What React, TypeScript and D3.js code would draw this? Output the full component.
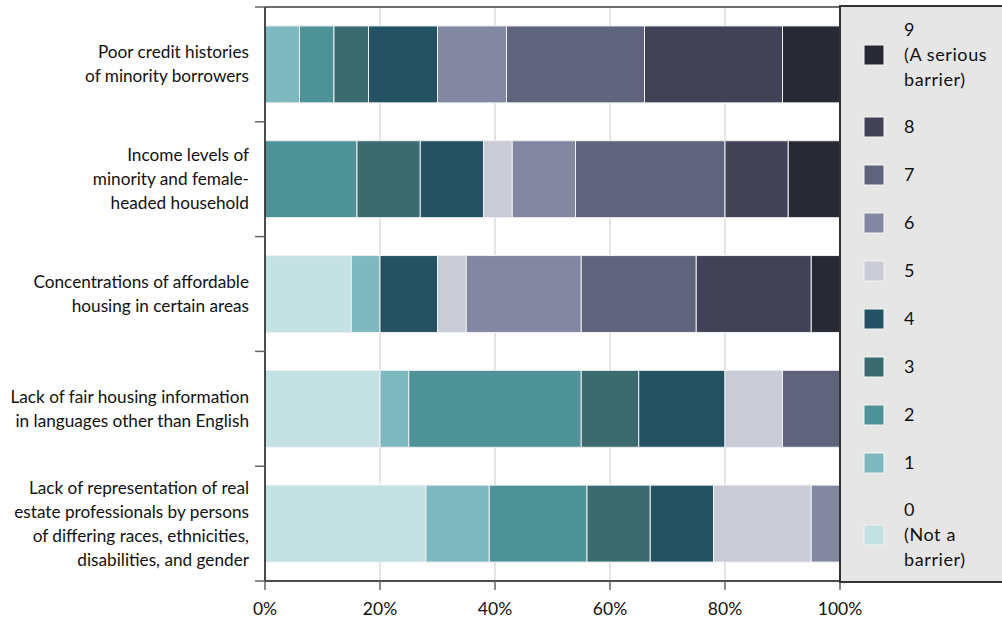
import React from "react";
import * as d3 from "d3";

const categories: string[][] = [
  ["Poor credit histories", "of minority borrowers"],
  ["Income levels of", "minority and female-", "headed household"],
  ["Concentrations of affordable", "housing in certain areas"],
  ["Lack of fair housing information", "in languages other than English"],
  ["Lack of representation of real", "estate professionals by persons", "of differing races, ethnicities,", "disabilities, and gender"],
];

const levels = ["0", "1", "2", "3", "4", "5", "6", "7", "8", "9"];

// percent of responses per level (0..9) for each category
const poorCredit = [0, 6, 6, 6, 12, 0, 12, 24, 24, 10];
const incomeLevels = [0, 0, 16, 11, 11, 5, 11, 26, 11, 9];
const concentrations = [15, 5, 0, 0, 10, 5, 20, 20, 20, 5];
const languages = [20, 5, 30, 10, 15, 10, 0, 10, 0, 0];
const representation = [28, 11, 17, 11, 11, 17, 5, 0, 0, 0];

const seriesValues = [poorCredit, incomeLevels, concentrations, languages, representation];

const colors = ["#c4e1e3", "#7fb9c0", "#4e9398", "#3b6a6f", "#245262", "#c9cbd7", "#8487a1", "#60637c", "#414255", "#272934"];

const legendLabels: string[][] = [
  ["9", "(A serious", "barrier)"],
  ["8"], ["7"], ["6"], ["5"], ["4"], ["3"], ["2"], ["1"],
  ["0", "(Not a", "barrier)"],
];

const xTicks = [0, 20, 40, 60, 80, 100];

const W = 1002, H = 621;
const left = 265, right = 840, top = 7, bottom = 581;
const FONT = "Lato, 'Noto Sans', sans-serif";

export default function App() {
  const x = d3.scaleLinear().domain([0, 100]).range([left, right]);
  const y = d3.scaleBand<number>().domain(d3.range(categories.length)).range([top, bottom]).paddingInner(0.33).paddingOuter(0.165);
  const table = seriesValues.map((vals, i) => {
    const row: any = { idx: i };
    levels.forEach((l, j) => (row[l] = vals[j]));
    return row;
  });
  const stacked = d3.stack<any>().keys(levels)(table);
  const bandStep = (bottom - top) / categories.length;
  const lineH = 24;

  const legendCenters = [55, 127, 175, 223, 271, 319, 367, 415, 463, 535];

  return (
    <svg width={W} height={H} style={{ position: "absolute", left: 0, top: 0, background: "#fff" }} fontFamily={FONT}>
      {xTicks.slice(1, -1).map((t) => (
        <line key={"g" + t} x1={x(t)} x2={x(t)} y1={top} y2={bottom} stroke="#dcdcdc" strokeWidth={1.5} />
      ))}
      {stacked.map((s, si) => (
        <g key={s.key} fill={colors[si]}>
          {s.map((d, ci) =>
            d[1] - d[0] > 0 ? (
              <rect key={ci} x={x(d[0])} y={y(ci)!} width={x(d[1]) - x(d[0])} height={y.bandwidth()} stroke="#eef0f2" strokeWidth={1} />
            ) : null
          )}
        </g>
      ))}
      <line x1={left} x2={right} y1={top} y2={top} stroke="#6e6e6e" strokeWidth={2} />
      <line x1={left} x2={left} y1={top} y2={bottom + 1} stroke="#111" strokeWidth={1.5} />
      {d3.range(categories.length + 1).map((i) => (
        <line key={"yt" + i} x1={255} x2={left} y1={top + i * bandStep} y2={top + i * bandStep} stroke="#666" strokeWidth={1.5} />
      ))}
      <line x1={left} x2={right} y1={bottom} y2={bottom} stroke="#111" strokeWidth={1.5} />
      {xTicks.map((t) => (
        <g key={"xt" + t}>
          <line x1={x(t)} x2={x(t)} y1={bottom} y2={bottom + 9} stroke="#666" strokeWidth={1.5} />
          <text x={x(t)} y={615} textAnchor="middle" fontSize={17.5} fill="#111">{t}%</text>
        </g>
      ))}
      {categories.map((lines, i) => {
        const cy = top + (i + 0.5) * bandStep;
        const y0 = cy - ((lines.length - 1) * lineH) / 2;
        return (
          <text key={"c" + i} x={249} textAnchor="end" fontSize={17.2} fill="#111">
            {lines.map((l, k) => (
              <tspan key={k} x={249} y={y0 + k * lineH} dy="0.35em">{l}</tspan>
            ))}
          </text>
        );
      })}
      <rect x={right} y={top - 1} width={W - right + 2} height={bottom - top + 2} fill="#e6e6e6" stroke="#333" strokeWidth={2} />
      {legendLabels.map((lines, i) => {
        const level = 9 - i;
        const cy = legendCenters[i];
        const y0 = cy - ((lines.length - 1) * 25) / 2;
        return (
          <g key={"l" + i}>
            <rect x={864} y={cy - 10} width={20} height={20} fill={colors[level]} stroke="#f4f4f4" strokeWidth={1} />
            <text fontSize={18} letterSpacing={0.6} fill="#111">
              {lines.map((l, k) => (
                <tspan key={k} x={904} y={y0 + k * 25} dy="0.35em">{l}</tspan>
              ))}
            </text>
          </g>
        );
      })}
    </svg>
  );
}
